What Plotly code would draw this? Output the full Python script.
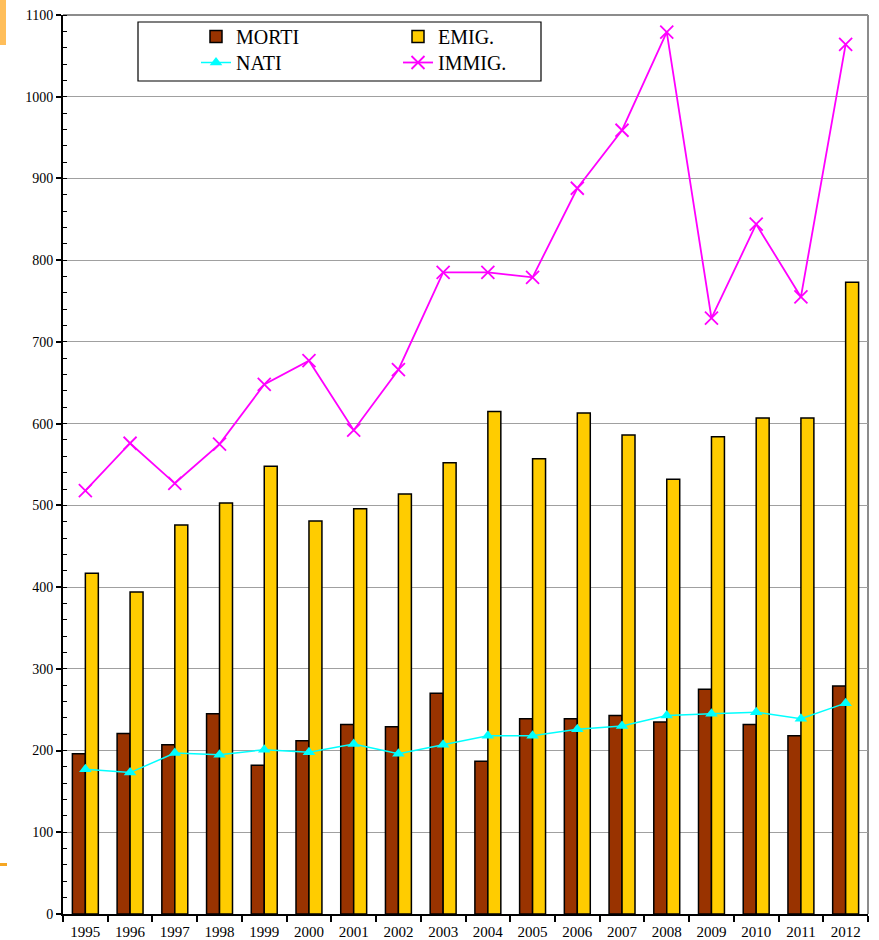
import plotly.graph_objects as go

years = [str(y) for y in range(1995, 2013)]
morti = [196, 221, 207, 245, 182, 212, 232, 229, 270, 187, 239, 239, 243, 235, 275, 232, 218, 279]
emig = [417, 394, 476, 503, 548, 481, 496, 514, 552, 615, 557, 613, 586, 532, 584, 607, 607, 773]
nati = [177, 173, 197, 195, 201, 198, 208, 196, 207, 218, 218, 226, 230, 243, 245, 247, 239, 258]
immig = [518, 576, 527, 575, 648, 677, 592, 666, 785, 785, 779, 888, 959, 1079, 729, 844, 755, 1064]

FONT = "Liberation Serif, Times New Roman, serif"

fig = go.Figure()
fig.add_trace(go.Bar(x=years, y=morti, name="MORTI", legend="legend",
                     marker=dict(color="#993300", line=dict(color="black", width=1.5))))
fig.add_trace(go.Bar(x=years, y=emig, name="EMIG.", legend="legend2",
                     marker=dict(color="#FFCC00", line=dict(color="black", width=1.5))))
fig.add_trace(go.Scatter(x=years, y=nati, name="NATI", legend="legend3", mode="lines+markers",
                         line=dict(color="#00FFFF", width=1.5),
                         marker=dict(symbol="triangle-up", size=11, color="#00FFFF")))
fig.add_trace(go.Scatter(x=years, y=immig, name="IMMIG.", legend="legend4", mode="lines+markers",
                         line=dict(color="#FF00FF", width=1.8),
                         marker=dict(symbol="x-thin", size=13, color="#FF00FF",
                                     line=dict(color="#FF00FF", width=1.8))))

L, R, T, B = 63, 11, 15, 26
W, H = 879, 940
pw, ph = W - L - R, H - T - B

def px(x):
    return (x - L) / pw

def py(y):
    return (H - B - y) / ph

legend_common = dict(bgcolor="rgba(0,0,0,0)", borderwidth=0,
                     font=dict(family=FONT, size=20, color="black"),
                     yanchor="top", xanchor="left", tracegroupgap=0)

fig.update_layout(
    width=W, height=H,
    margin=dict(l=L, r=R, t=T, b=B, autoexpand=False),
    paper_bgcolor="white", plot_bgcolor="white",
    barmode="group", bargap=0.42, bargroupgap=0,
    showlegend=True,
    legend=dict(x=px(196), y=py(17), **legend_common),
    legend2=dict(x=px(398), y=py(17), **legend_common),
    legend3=dict(x=px(196), y=py(43), **legend_common),
    legend4=dict(x=px(398), y=py(43), **legend_common),
    xaxis=dict(type="category", range=[-0.5, 17.5], automargin=False,
               showgrid=False, showline=True, linecolor="black", linewidth=2,
               ticks="outside", tickson="boundaries", ticklen=6, tickwidth=1.5, tickcolor="black",
               ticklabelstandoff=3,
               tickfont=dict(family=FONT, size=15, color="black")),
    yaxis=dict(range=[0, 1100], dtick=100, automargin=False,
               showgrid=True, gridcolor="#a0a0a0", gridwidth=1,
               showline=True, linecolor="black", linewidth=2, zeroline=False,
               ticks="outside", ticklen=5, tickwidth=1.5, tickcolor="black",
               minor=dict(dtick=20, ticks="inside", ticklen=4, tickcolor="black", tickwidth=1.2, showgrid=False),
               tickfont=dict(family=FONT, size=14, color="black")),
    shapes=[
        dict(type="line", xref="paper", yref="paper", x0=0, x1=1, y0=1, y1=1,
             line=dict(color="#8c8c8c", width=2), layer="below"),
        dict(type="line", xref="paper", yref="paper", x0=1, x1=1, y0=0, y1=1,
             line=dict(color="#8c8c8c", width=2), layer="below"),
        dict(type="rect", xref="paper", yref="paper", x0=px(138), x1=px(541), y0=py(81), y1=py(22),
             line=dict(color="black", width=1.2), fillcolor="white", layer="above"),
        dict(type="rect", xref="paper", yref="paper", x0=px(0), x1=px(6), y0=py(45), y1=py(0),
             line=dict(width=0), fillcolor="#FFBE5A", layer="above"),
        dict(type="rect", xref="paper", yref="paper", x0=px(0), x1=px(7), y0=py(866), y1=py(863),
             line=dict(width=0), fillcolor="#F5A623", layer="above"),
    ],
)

fig.write_html("out.html", config={"displayModeBar": False},
               post_script="document.body.style.margin='0px';")
